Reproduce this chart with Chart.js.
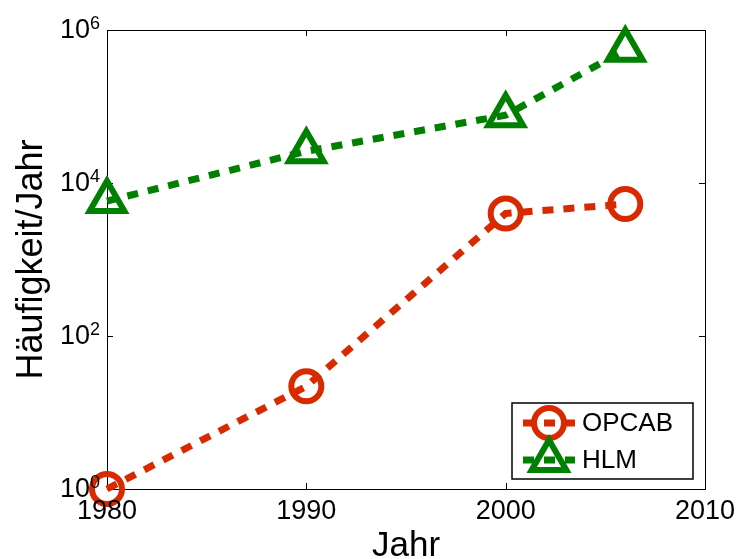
<!DOCTYPE html>
<html>
<head>
<meta charset="utf-8">
<script src="https://cdn.jsdelivr.net/npm/chart.js@4/dist/chart.umd.min.js"></script>
<style>
  html, body { margin: 0; padding: 0; background: #fff; }
  #wrap { width: 739px; height: 559px; }
</style>
</head>
<body>
<div id="wrap"><canvas id="c"></canvas></div>
<script>
// values
const years = [1980, 1990, 2000, 2006];
const opcab = [1, 22, 4000, 5300];
const hlm = [5800, 26000, 77000, 550000];
const seriesNames = ['OPCAB', 'HLM'];
const xTicks = [1980, 1990, 2000, 2010];
const yTicks = [1, 100, 10000, 1000000];
const yTickExp = ['0', '2', '4', '6'];

const red = 'rgb(217,41,0)';
const green = 'rgb(0,128,0)';
const FONT = '"Liberation Sans", Arial, Helvetica, sans-serif';

const toPts = (vals) => vals.map((v, i) => ({ x: years[i], y: v }));

// box, inward ticks, tick labels, axis titles
const axesBox = {
    id: 'axesBox',
    beforeDatasetsDraw(chart) {
        const { ctx, chartArea: a } = chart;
        const xs = chart.scales.x, ys = chart.scales.y;
        ctx.save();
        ctx.strokeStyle = '#000';
        ctx.lineWidth = 1;
        ctx.strokeRect(a.left + 0.5, a.top + 0.5, a.right - a.left, a.bottom - a.top);
        ctx.beginPath();
        xTicks.forEach(t => {
            const px = Math.round(xs.getPixelForValue(t)) + 0.5;
            ctx.moveTo(px, a.bottom); ctx.lineTo(px, a.bottom - 6);
            ctx.moveTo(px, a.top); ctx.lineTo(px, a.top + 6);
        });
        yTicks.forEach(t => {
            const py = Math.round(ys.getPixelForValue(t)) + 0.5;
            ctx.moveTo(a.left, py); ctx.lineTo(a.left + 6, py);
            ctx.moveTo(a.right, py); ctx.lineTo(a.right - 6, py);
        });
        ctx.stroke();
        ctx.restore();
    },
    afterDraw(chart) {
        const { ctx, chartArea: a } = chart;
        const xs = chart.scales.x, ys = chart.scales.y;
        ctx.save();
        ctx.fillStyle = '#000';
        ctx.font = '27px ' + FONT;
        ctx.textAlign = 'center';
        ctx.textBaseline = 'middle';
        xTicks.forEach(t => ctx.fillText(String(t), xs.getPixelForValue(t), a.bottom + 23));

        yTicks.forEach((t, i) => {
            const py = ys.getPixelForValue(t);
            ctx.font = '18px ' + FONT;
            const sw = ctx.measureText(yTickExp[i]).width;
            ctx.textAlign = 'left';
            ctx.textBaseline = 'alphabetic';
            ctx.fillText(yTickExp[i], 100 - sw, py - 1);
            ctx.font = '27px ' + FONT;
            ctx.textAlign = 'right';
            ctx.textBaseline = 'middle';
            ctx.fillText('10', 100 - sw, py + 1);
        });

        ctx.font = '35px ' + FONT;
        ctx.textAlign = 'center';
        ctx.textBaseline = 'alphabetic';
        ctx.fillText('Jahr', (a.left + a.right) / 2, 556);

        ctx.translate(42, (a.top + a.bottom) / 2);
        ctx.rotate(-Math.PI / 2);
        ctx.font = '36px ' + FONT;
        ctx.fillText('Häufigkeit/Jahr', 0, 0);
        ctx.restore();
    }
};

// legend with dashed line sample and marker
const boxLegend = {
    id: 'boxLegend',
    afterDraw(chart) {
        const { ctx } = chart;
        const L = 512, T = 403, R = 693, B = 479;
        ctx.save();
        ctx.fillStyle = '#fff';
        ctx.fillRect(L, T, R - L, B - T);
        ctx.strokeStyle = '#000';
        ctx.lineWidth = 1.5;
        ctx.strokeRect(L, T, R - L, B - T);
        const rows = [423, 460];
        chart.data.datasets.forEach((ds, i) => {
            const y = rows[i];
            ctx.strokeStyle = ds.borderColor;
            ctx.lineWidth = ds.borderWidth;
            ctx.setLineDash(ds.borderDash);
            ctx.beginPath();
            ctx.moveTo(523, y); ctx.lineTo(575, y);
            ctx.stroke();
            ctx.setLineDash([]);
            ctx.lineWidth = ds.pointBorderWidth;
            ctx.lineJoin = 'miter';
            ctx.beginPath();
            const cx = 549, r = ds.pointRadius;
            if (ds.pointStyle === 'circle') {
                ctx.arc(cx, y, r, 0, Math.PI * 2);
            } else {
                let rad = 0;
                ctx.moveTo(cx + Math.sin(rad) * r, y - Math.cos(rad) * r);
                rad += 2 * Math.PI / 3;
                ctx.lineTo(cx + Math.sin(rad) * r, y - Math.cos(rad) * r);
                rad += 2 * Math.PI / 3;
                ctx.lineTo(cx + Math.sin(rad) * r, y - Math.cos(rad) * r);
                ctx.closePath();
            }
            ctx.stroke();
            ctx.fillStyle = '#000';
            ctx.font = '26px ' + FONT;
            ctx.textAlign = 'left';
            ctx.textBaseline = 'middle';
            ctx.fillText(ds.label, 582, y + 1);
        });
        ctx.restore();
    }
};

new Chart(document.getElementById('c'), {
    type: 'line',
    data: {
        datasets: [{
            label: seriesNames[0],
            data: toPts(opcab),
            borderColor: red,
            borderWidth: 7,
            borderDash: [11, 10],
            pointStyle: 'circle',
            pointRadius: 15,
            pointBorderWidth: 6,
            pointBorderColor: red,
            pointBackgroundColor: 'rgba(0,0,0,0)',
            clip: false
        }, {
            label: seriesNames[1],
            data: toPts(hlm),
            borderColor: green,
            borderWidth: 7,
            borderDash: [11, 10],
            pointStyle: 'triangle',
            pointRadius: 20,
            pointBorderWidth: 6,
            pointBorderColor: green,
            pointBackgroundColor: 'rgba(0,0,0,0)',
            clip: false
        }]
    },
    options: {
        responsive: true,
        maintainAspectRatio: false,
        animation: false,
        layout: { padding: { left: 0, top: 30, right: 34, bottom: 0 } },
        plugins: { legend: { display: false }, tooltip: { enabled: false } },
        scales: {
            x: {
                type: 'linear',
                min: 1980,
                max: 2010,
                grid: { display: false },
                border: { display: false },
                ticks: { display: false },
                afterFit: (s) => { s.height = 70; }
            },
            y: {
                type: 'logarithmic',
                min: 1,
                max: 1000000,
                grid: { display: false },
                border: { display: false },
                ticks: { display: false },
                afterFit: (s) => { s.width = 107; }
            }
        }
    },
    plugins: [axesBox, boxLegend]
});
</script>
</body>
</html>
